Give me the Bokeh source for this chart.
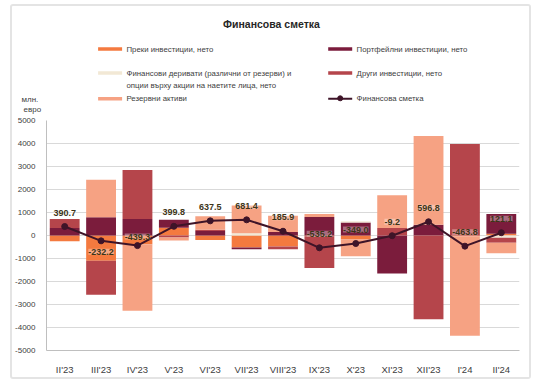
import numpy as np
from bokeh.plotting import figure
from bokeh.layouts import column
from bokeh.models import (FactorRange, Range1d, FixedTicker, LabelSet, ColumnDataSource)
from bokeh.core.properties import value
from bokeh.embed import file_html
from bokeh.resources import INLINE

# ---------------- data ----------------
months = ["II'23", "III'23", "IV'23", "V'23", "VI'23", "VII'23", "VIII'23",
          "IX'23", "X'23", "XI'23", "XII'23", "I'24", "II'24"]
direct      = [-250, -1100, -380, 340, -200, -520, -480, -30, -170, 0, 0, -30, 80]
portfolio   = [330, 790, 720, 350, 200, -80, 150, 800, 560, -1650, 470, 0, 860]
derivatives = [0, 0, 0, 0, 0, 100, 0, 0, 60, 0, 0, 0, -100]
other       = [390, -1480, 2130, -90, 50, 0, -120, -1380, 0, 330, -3640, 3980, -210]
reserves    = [0, 1630, -2890, -130, 590, 1200, 710, 140, -730, 1415, 3860, -4330, -460]
total       = [390.7, -232.2, -439.3, 399.8, 637.5, 681.4, 185.9, -535.2, -349.0,
               -9.2, 596.8, -463.8, 121.1]
y_ticks = [-5000, -4000, -3000, -2000, -1000, 0, 1000, 2000, 3000, 4000, 5000]

names = ["Преки инвестиции, нето", "Портфейлни инвестиции, нето",
         "Финансови деривати (различни от резерви) и",
         "Други инвестиции, нето", "Резервни активи"]
deriv_line2 = "опции върху акции на наетите лица, нето"
line_name = "Финансова сметка"
title = "Финансова сметка"
unit_lines = ["млн.", "евро"]
colors = ["#F47A3F", "#7B1C3C", "#F2E8D5", "#B5454B", "#F6A283"]
line_color = "#3E1428"
REG = "Liberation Sans"
TXT = "#404040"

# ---------------- header (title, legend, unit) ----------------
HW, HH = 517, 109
hdr = figure(width=HW, height=HH, x_range=Range1d(0, HW), y_range=Range1d(HH, 0),
             x_axis_type=None, y_axis_type=None, min_border=0,
             output_backend="svg", toolbar_location=None)
hdr.outline_line_color = None
hdr.grid.visible = False
hdr.frame_align = False

hdr.text(x=[259], y=[17], text=[title], text_font=value(REG), text_font_size=value("10.5px"),
         text_font_style="bold", text_align="center", text_baseline="middle", text_color="#262626")

col1_x, col2_x = 85.6, 315.7
row_y = [42.6, 66.6, 92.3]
leg_pos = [(col1_x, row_y[0]), (col2_x, row_y[0]), (col1_x, row_y[1]),
           (col2_x, row_y[1]), (col1_x, row_y[2])]
sw_w, stand = 24, 4.4
LEG_FS = value("7.8px")
hdr.segment(x0=[x for x, _ in leg_pos], y0=[y for _, y in leg_pos],
            x1=[x + sw_w for x, _ in leg_pos], y1=[y for _, y in leg_pos],
            line_color=colors, line_width=3.5)
hdr.text(x=[x + sw_w + stand for x, _ in leg_pos], y=[y for _, y in leg_pos], text=names,
         text_font=value(REG), text_font_size=LEG_FS, text_baseline="middle", text_color=TXT)
hdr.text(x=[col1_x + sw_w + stand], y=[row_y[1] + 12.3], text=[deriv_line2],
         text_font=value(REG), text_font_size=LEG_FS, text_baseline="middle", text_color=TXT)
hdr.segment(x0=[col2_x], y0=[row_y[2]], x1=[col2_x + sw_w], y1=[row_y[2]],
            line_color=line_color, line_width=2)
hdr.scatter(x=[col2_x + sw_w / 2], y=[row_y[2] - 0.5], size=5, fill_color=line_color,
            line_color=line_color)
hdr.text(x=[col2_x + sw_w + stand], y=[row_y[2]], text=[line_name],
         text_font=value(REG), text_font_size=LEG_FS, text_baseline="middle", text_color=TXT)
hdr.text(x=[9, 11], y=[93.3, 103], text=unit_lines, text_font=value(REG),
         text_font_size=value("8px"), text_baseline="middle", text_color=TXT)

# ---------------- chart ----------------
CW, CH = 517, 262
p = figure(width=CW, height=CH, x_range=FactorRange(*months, range_padding=0),
           y_range=Range1d(-5000, 5000), output_backend="svg", toolbar_location=None,
           min_border_left=34, min_border_right=10, min_border_top=5, min_border_bottom=26)
p.outline_line_color = None
p.frame_align = False

p.xgrid.grid_line_color = None
p.ygrid.grid_line_color = "#D9D9D9"
p.ygrid.grid_line_width = 1.2
p.yaxis.ticker = FixedTicker(ticks=y_ticks)
p.yaxis.major_label_overrides = {t: str(t) for t in y_ticks}
p.yaxis.axis_line_color = "#BFBFBF"
p.xaxis.axis_line_color = "#BFBFBF"
for ax in (p.xaxis[0], p.yaxis[0]):
    ax.major_tick_line_color = None
    ax.minor_tick_line_color = None
    ax.major_label_text_color = TXT
    ax.major_label_text_font = REG
p.yaxis.major_label_text_font_size = "8px"
p.yaxis.major_label_standoff = 5
p.xaxis.major_label_text_font_size = "9.5px"
p.xaxis.major_label_standoff = 7

# stacked bars (positives up, negatives down)
n = len(months)
pos = np.zeros(n)
neg = np.zeros(n)
for vals, col in zip([direct, portfolio, derivatives, other, reserves], colors):
    v = np.array(vals, dtype=float)
    bottom = np.where(v >= 0, pos, neg)
    top = bottom + v
    pos = np.where(v >= 0, top, pos)
    neg = np.where(v < 0, top, neg)
    p.vbar(x=months, bottom=bottom, top=top, width=0.82, fill_color=col, line_color=None)

# line
p.line(x=months, y=total, line_color=line_color, line_width=2)
p.scatter(x=months, y=total, size=6, fill_color=line_color, line_color=line_color)

# data labels
offsets = [14] * n
offsets[1] = -11
offsets[2] = 9
src = ColumnDataSource(dict(x=months, y=total, t=[f"{v:.1f}" for v in total], off=offsets))
p.add_layout(LabelSet(x="x", y="y", text="t", y_offset="off", source=src,
                      text_align="center", text_baseline="middle",
                      text_font=value(REG), text_font_size=value("9px"),
                      text_font_style="bold", text_color="#3D3518",
                      background_fill_color="white", background_fill_alpha=0.35))

layout = column(hdr, p, spacing=0)
layout.styles = {"border": "2px solid #e4e4e4", "border-radius": "3px",
                 "margin-left": "10px", "margin-top": "4px"}

open("out.html", "w").write(file_html(layout, INLINE))
